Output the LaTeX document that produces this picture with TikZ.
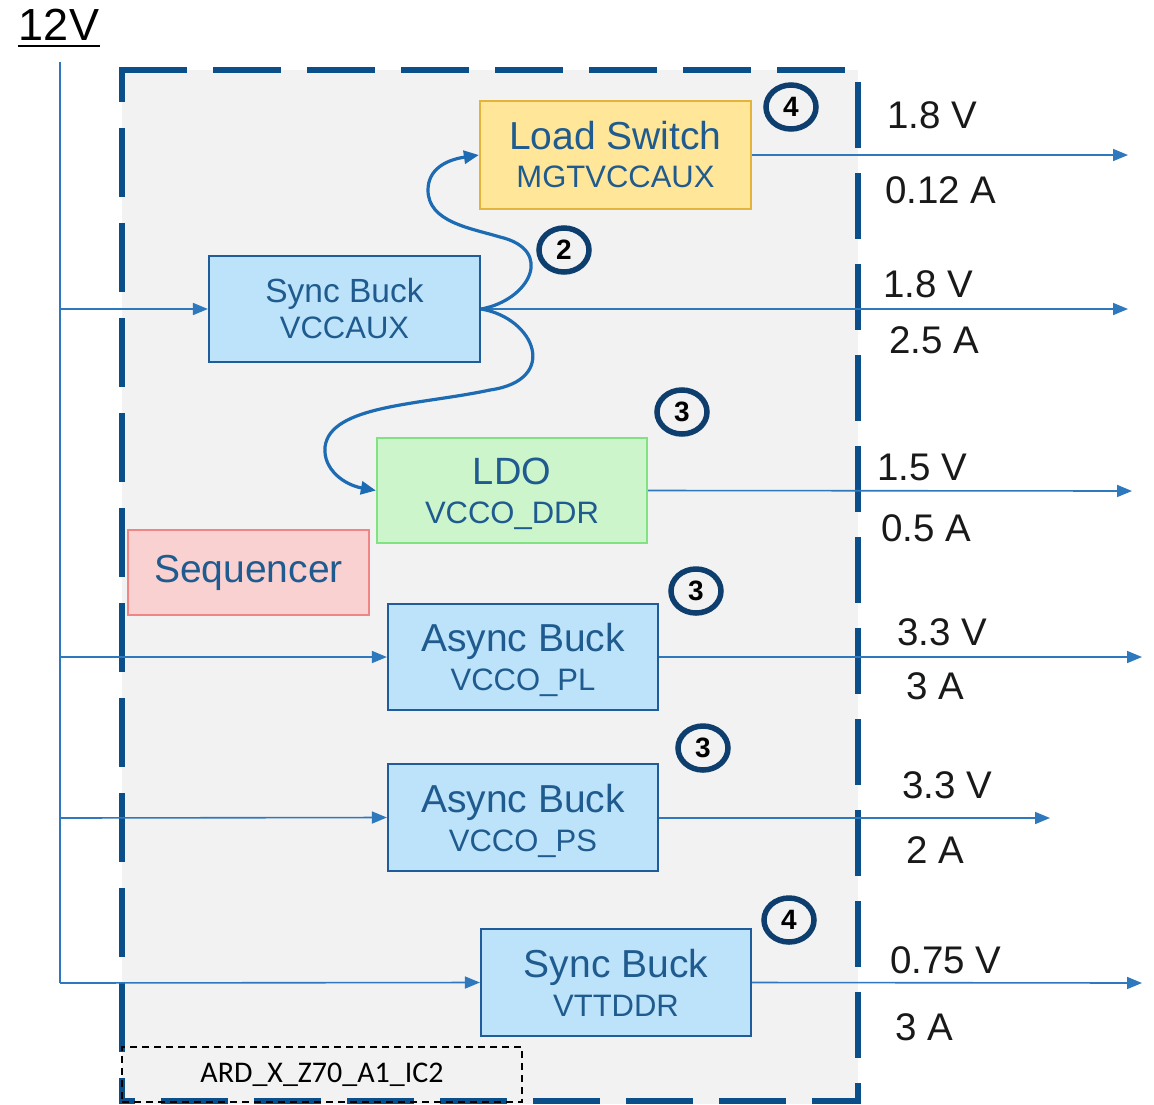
\documentclass[tikz,border=0pt]{standalone}
\usepackage{fontspec}
\setmainfont{Liberation Sans}
\newfontfamily\carlitofont{Carlito}
\usetikzlibrary{arrows.meta,shapes.geometric}
\definecolor{frameblue}{HTML}{0B4F8A}
\definecolor{wireblue}{HTML}{2E78BE}
\definecolor{curveblue}{HTML}{1D6CB3}
\definecolor{boxtext}{HTML}{1F5B8E}
\definecolor{bluefill}{HTML}{BDE3FA}
\definecolor{blueedge}{HTML}{1F5C99}
\definecolor{yelfill}{HTML}{FFE699}
\definecolor{yeledge}{HTML}{E2B43C}
\definecolor{grnfill}{HTML}{CCF5CC}
\definecolor{grnedge}{HTML}{80E280}
\definecolor{redfill}{HTML}{F9D1D1}
\definecolor{rededge}{HTML}{EF8585}
\definecolor{bgray}{HTML}{F2F2F2}
\definecolor{ringblue}{HTML}{0E3E6E}
\newcommand{\fs}[2]{\fontsize{#1}{#2}\selectfont}
\begin{document}
\begin{tikzpicture}[x=1pt,y=-1pt,
  frame/.style={draw=frameblue, line width=6pt},
  box/.style={draw, line width=2.2pt, align=center, text=boxtext, inner sep=0pt,
              minimum width=270pt, minimum height=106pt},
  bluebox/.style={box, fill=bluefill, draw=blueedge},
  wire/.style={draw=wireblue, line width=1.6pt},
  wirearrow/.style={wire, -{Triangle[length=15pt,width=12pt]}},
  curvearrow/.style={draw=curveblue, line width=3.2pt, -{Triangle[length=15pt,width=13pt]}},
  ring/.style={ellipse, draw=ringblue, line width=5.5pt, minimum width=50pt, minimum height=44pt,
               inner sep=0pt, font=\fs{28}{28}\bfseries, text=black},
  val/.style={anchor=west, inner sep=0pt, font=\fs{38.5}{40}, text=black!90}
]
\useasboundingbox (0,0) rectangle (1154,1104);
\fill[white] (0,0) rectangle (1154,1104);
% background block
\fill[bgray] (122,70) rectangle (858,1104);
\draw[frame, dash pattern=on 68pt off 26pt] (119,70) -- (858,70);
\draw[frame, dash pattern=on 69pt off 26pt, dash phase=37pt] (122,70) -- (122,1104);
\draw[frame, dash pattern=on 66pt off 25pt, dash phase=79pt] (858,70) -- (858,1104);
\draw[frame, dash pattern=on 67pt off 26pt, dash phase=54pt] (122,1101) -- (861,1101);

% 12V input
\node[anchor=base, inner sep=0pt, inner xsep=1pt, font=\fs{45}{45}] (v12) at (59,40) {12V};
\draw[line width=2.5pt] ([yshift=-6pt]v12.base west) -- ([yshift=-6pt]v12.base east);

% blocks
\node[box, fill=yelfill, draw=yeledge, minimum width=271pt, minimum height=108pt,
      font=\fs{39}{38}] (ls) at (615.5,155) {Load Switch\\{\fs{31}{31}MGTVCCAUX}};
\node[bluebox, minimum width=271pt, minimum height=106pt, font=\fs{33.5}{36}]
      (sb1) at (344.5,309) {Sync Buck\\{\fs{31}{31}VCCAUX}};
\node[box, fill=grnfill, draw=grnedge, minimum width=270pt, minimum height=105pt,
      font=\fs{38}{39.5}] (ldo) at (512,490.5) {LDO\\{\fs{31}{31}\smash{VCCO\_DDR}}};
\node[box, fill=redfill, draw=rededge, minimum width=241pt, minimum height=85pt,
      font=\fs{39}{39}] (seq) at (248.5,572.5) {Sequencer};
\node[bluebox, font=\fs{39}{39}] (pl) at (523,657) {Async Buck\\{\fs{31}{31}\smash{VCCO\_PL}}};
\node[bluebox, minimum height=107pt, font=\fs{39}{39}] (ps) at (523,817.5) {Async Buck\\{\fs{31}{31}\smash{VCCO\_PS}}};
\node[bluebox, minimum height=107pt, font=\fs{39}{39}] (vtt) at (616,982.5) {Sync Buck\\{\fs{31}{31}VTTDDR}};

% ARD label box
\node[draw=black, line width=2pt, dash pattern=on 7pt off 5pt, minimum width=400pt,
      minimum height=55pt, inner sep=0pt, font=\carlitofont\fs{30}{30}] (ard) at (322,1074.5)
      {ARD\_X\_Z70\_A1\_IC2};

% rings
\node[ring] (r1) at (791,107) {4};
\node[ring] (r2) at (564,250) {2};
\node[ring] (r3) at (682,412) {3};
\node[ring] (r4) at (696,591) {3};
\node[ring] (r5) at (703,748) {3};
\node[ring] (r6) at (789,920) {4};

% input bus
\coordinate (btop) at (60,62);
\coordinate (j1) at (60,309);
\coordinate (j2) at (60,657);
\coordinate (j3) at (60,818);
\coordinate (j4) at (60,983);
\draw[wire] (btop) -- (j4);
\draw[wirearrow] (j1) -- (sb1.west);
\draw[wirearrow] (j2) -- (pl.west);
\draw[wirearrow] (j3) -- (ps.west);
\draw[wirearrow] (j4) -- (vtt.west);

% outputs
\coordinate (o1) at (1128,155);
\coordinate (o2) at (1128,309);
\coordinate (o3) at (1132,491);
\coordinate (o4) at (1142,657);
\coordinate (o5) at (1050,818);
\coordinate (o6) at (1142,983);
\draw[wirearrow] (ls.east) -- (o1);
\draw[wirearrow] (sb1.east) -- (o2);
\draw[wirearrow] (ldo.east) -- (o3);
\draw[wirearrow] (pl.east) -- (o4);
\draw[wirearrow] (ps.east |- o5) -- (o5);
\draw[wirearrow] (vtt.east) -- (o6);

% sequencing curves
\draw[curvearrow] (sb1.east) .. controls (530,300) and (555,250) .. (500,237)
   .. controls (470,228) and (428,222) .. (428,190)
   .. controls (428,170) and (445,160) .. (ls.west);
\draw[curvearrow] (sb1.east) .. controls (535,318) and (560,380) .. (490,390)
   .. controls (420,405) and (330,405) .. (325,447)
   .. controls (323,470) and (345,485) .. (ldo.west);

% output values
\node[val] (t1) at (887,115) {1.8 V};
\node[val] (t2) at (885,190) {0.12 A};
\node[val] (t3) at (883,284) {1.8 V};
\node[val] (t4) at (889,340) {2.5 A};
\node[val] (t5) at (877,467) {1.5 V};
\node[val] (t6) at (881,528) {0.5 A};
\node[val] (t7) at (897,632) {3.3 V};
\node[val] (t8) at (906,686) {3 A};
\node[val] (t9) at (902,785) {3.3 V};
\node[val] (t10) at (906,850) {2 A};
\node[val] (t11) at (890,960) {0.75 V};
\node[val] (t12) at (895,1027) {3 A};
\end{tikzpicture}
\end{document}
